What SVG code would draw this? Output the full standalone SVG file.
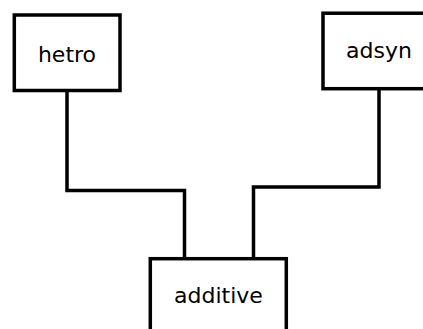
<svg xmlns="http://www.w3.org/2000/svg" width="423" height="329" viewBox="0 0 423 329">
<style>
.box{fill:#fff;stroke:#000;stroke-width:3.5}
.lbl{font-family:"DejaVu Sans",sans-serif;font-size:22px;fill:#000;text-anchor:middle}
.edge{fill:none;stroke:#000;stroke-width:3.5}
</style>
<rect width="423" height="329" fill="#fff"/>
<g id="edges">
<path class="edge" d="M67,90.5 V190.5 H184.5 V258.5"/>
<path class="edge" d="M379,88.5 V187 H253.5 V258.5"/>
</g>
<g id="hetro">
<rect class="box" x="14.3" y="15" width="105.7" height="75.5"/>
<text class="lbl" x="67" y="61.5">hetro</text>
</g>
<g id="adsyn">
<rect class="box" x="323" y="13.2" width="112" height="75.5"/>
<text class="lbl" x="379" y="58.3">adsyn</text>
</g>
<g id="additive">
<rect class="box" x="150.3" y="258.7" width="136" height="100"/>
<text class="lbl" x="218.5" y="303.3">additive</text>
</g>
</svg>
